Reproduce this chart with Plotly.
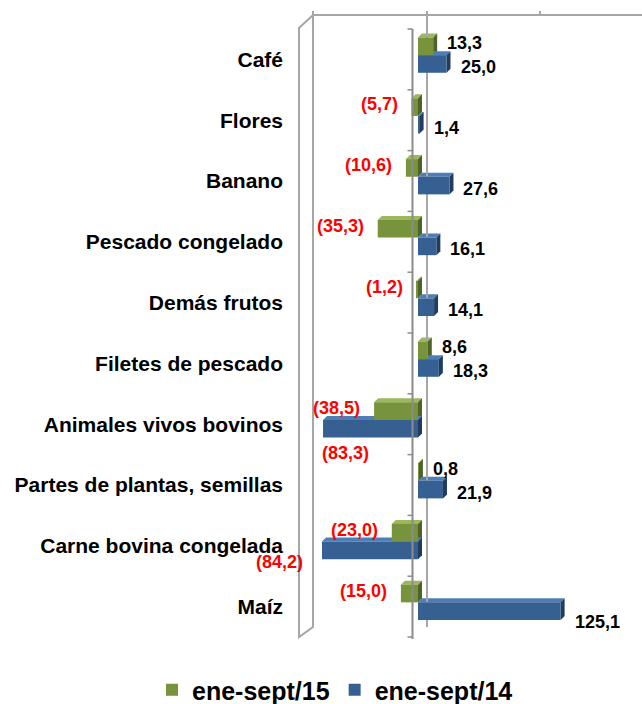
import plotly.graph_objects as go

# Export values by product, % change (ene-sept/15 vs ene-sept/14)
categories = [
    "Café",
    "Flores",
    "Banano",
    "Pescado congelado",
    "Demás frutos",
    "Filetes de pescado",
    "Animales vivos bovinos",
    "Partes de plantas, semillas",
    "Carne bovina congelada",
    "Maíz",
]
series_names = ["ene-sept/15", "ene-sept/14"]
values_15 = [13.3, -5.7, -10.6, -35.3, -1.2, 8.6, -38.5, 0.8, -23.0, -15.0]
values_14 = [25.0, 1.4, 27.6, 16.1, 14.1, 18.3, -83.3, 21.9, -84.2, 125.1]

# ---- page geometry ---------------------------------------------------------
W, H = 642, 704
M_L, M_R, M_T, M_B = 290, 0, 5, 54
ZERO_PX = 418.0        # pixel column of x = 0 on the front plane
PX_PER_UNIT = 1.14     # horizontal pixels per percentage point
CAT_TOP_PX = 29.0      # top edge of first category band
PX_PER_CAT = 60.8      # height of one category band


def px_to_x(px):
    return (px - ZERO_PX) / PX_PER_UNIT


def px_to_y(py):
    return (py - CAT_TOP_PX) / PX_PER_CAT - 0.5


x_range = [px_to_x(M_L), px_to_x(W - M_R)]
y_range = [px_to_y(H - M_B), px_to_y(M_T)]  # reversed: first category on top
plot_w = W - M_L - M_R
plot_h = H - M_T - M_B

# 3-D bar styling
BAR_W = 0.29
OFFSETS = [-0.215, 0.075]
DEPTH_X = 4.0 / PX_PER_UNIT
DEPTH_Y = 4.0 / PX_PER_CAT
COLORS = {
    "ene-sept/15": dict(front="#77933C", top="#9BB85A", side="#4F6228"),
    "ene-sept/14": dict(front="#376092", top="#4F7DB5", side="#213C5E"),
}
GRID = "#A6A6A6"
AXIS = "#8C8C8C"
FONT = "Liberation Sans, Arial"

fig = go.Figure()
shapes = []
annotations = []

# label placement tweaks for a few crowded labels
label_overrides = {
    ("ene-sept/14", "Animales vivos bovinos"): dict(xanchor="left", xshift=-3, yshift=-24),
    ("ene-sept/14", "Carne bovina congelada"): dict(xanchor="right", xshift=-17, yshift=-12),
    ("ene-sept/14", "Maíz"): dict(xanchor="left", xshift=12, yshift=-11),
}


def fmt(v):
    s = f"{abs(v):.1f}".replace(".", ",")
    return f"({s})" if v < 0 else s


for name, vals, off in zip(series_names, [values_15, values_14], OFFSETS):
    col = COLORS[name]
    ys = [i + off for i in range(len(categories))]
    fig.add_trace(go.Bar(
        name=name, orientation="h", x=vals, y=ys, width=BAR_W,
        marker=dict(color=col["front"], line=dict(width=0)),
        hoverinfo="skip",
    ))
    for cat, v, yc in zip(categories, vals, ys):
        x0, x1 = min(0.0, v), max(0.0, v)
        yt, yb = yc - BAR_W / 2, yc + BAR_W / 2
        # top face
        shapes.append(dict(
            type="path", xref="x", yref="y", layer="below",
            path=(f"M {x0},{yt} L {x1},{yt} L {x1 + DEPTH_X},{yt - DEPTH_Y} "
                  f"L {x0 + DEPTH_X},{yt - DEPTH_Y} Z"),
            fillcolor=col["top"], line=dict(width=0),
        ))
        # right side face
        shapes.append(dict(
            type="path", xref="x", yref="y", layer="below",
            path=(f"M {x1},{yt} L {x1 + DEPTH_X},{yt - DEPTH_Y} "
                  f"L {x1 + DEPTH_X},{yb - DEPTH_Y} L {x1},{yb} Z"),
            fillcolor=col["side"], line=dict(width=0),
        ))
        pos = dict(xanchor="left" if v >= 0 else "right",
                   xshift=12 if v >= 0 else -12,
                   yshift=3 if name == "ene-sept/15" else -3)
        pos.update(label_overrides.get((name, cat), {}))
        annotations.append(dict(
            x=v, y=yc, xref="x", yref="y", text=fmt(v), showarrow=False,
            yanchor="middle",
            font=dict(family=FONT, size=18, weight="bold",
                      color="#FF0000" if v < 0 else "#000000"),
            **pos,
        ))

# back wall: top edge, tick stubs and zero line
back_cols = [313, 427, 540]
shapes.append(dict(type="line", xref="x", yref="y", layer="below",
                   x0=px_to_x(313), x1=px_to_x(W), y0=px_to_y(15), y1=px_to_y(15),
                   line=dict(color=GRID, width=2)))
for c in back_cols:
    shapes.append(dict(type="line", xref="x", yref="y", layer="below",
                       x0=px_to_x(c), x1=px_to_x(c), y0=px_to_y(11), y1=px_to_y(15),
                       line=dict(color=GRID, width=2)))
shapes.append(dict(type="line", xref="x", yref="y", layer="below",
                   x0=px_to_x(427), x1=px_to_x(427), y0=px_to_y(15), y1=px_to_y(627),
                   line=dict(color=GRID, width=2)))
# side wall
shapes.append(dict(
    type="path", xref="x", yref="y", layer="below",
    path=(f"M {px_to_x(299)},{px_to_y(28)} L {px_to_x(313)},{px_to_y(15)} "
          f"L {px_to_x(313)},{px_to_y(627)} L {px_to_x(299)},{px_to_y(637)} Z"),
    line=dict(color=GRID, width=2), fillcolor="rgba(0,0,0,0)",
))
# front category axis with tick marks between categories
AX_PX = 412.5
shapes.append(dict(type="line", xref="x", yref="y", layer="above",
                   x0=px_to_x(AX_PX), x1=px_to_x(AX_PX),
                   y0=-0.5, y1=px_to_y(639),
                   line=dict(color=AXIS, width=2)))
for k in range(len(categories) + 1):
    shapes.append(dict(type="line", xref="x", yref="y", layer="above",
                       x0=px_to_x(AX_PX - 5), x1=px_to_x(AX_PX),
                       y0=k - 0.5, y1=k - 0.5,
                       line=dict(color=AXIS, width=1.5)))

fig.update_layout(
    width=W, height=H,
    margin=dict(l=M_L, r=M_R, t=M_T, b=M_B, autoexpand=False),
    paper_bgcolor="white", plot_bgcolor="rgba(0,0,0,0)",
    barmode="overlay",
    showlegend=True,
    legend=dict(
        orientation="h",
        x=(152 - M_L) / plot_w, xanchor="left",
        y=-(690 - (H - M_B)) / plot_h, yanchor="middle",
        font=dict(family=FONT, size=25, color="#000000", weight="bold"),
        itemwidth=30, traceorder="normal",
    ),
    xaxis=dict(range=x_range, visible=False, fixedrange=True),
    yaxis=dict(
        range=y_range, tickmode="array",
        tickvals=list(range(len(categories))), ticktext=categories,
        showgrid=False, zeroline=False, showline=False, ticks="",
        ticklabelstandoff=6, automargin=False,
        tickfont=dict(family=FONT, size=21, color="#000000", weight="bold"),
        fixedrange=True,
    ),
    shapes=shapes,
    annotations=annotations,
    font=dict(family=FONT),
)

fig.write_html("out.html")
